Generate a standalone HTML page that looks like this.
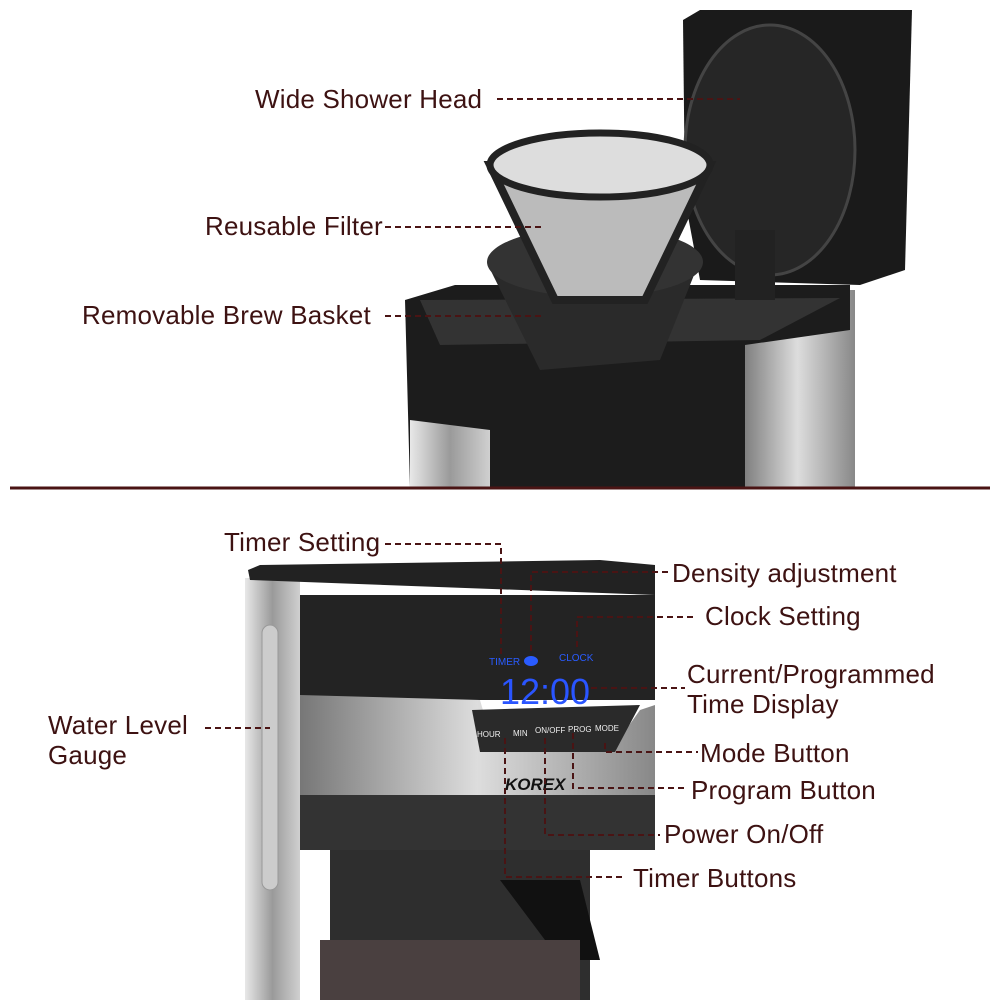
<!DOCTYPE html><html><head><style>
body{margin:0;width:1000px;height:1000px;background:#fff;position:relative;overflow:hidden;font-family:"Liberation Sans",sans-serif}
.t{position:absolute;color:#3d1212;font-size:26px;letter-spacing:0.2px;line-height:30px;white-space:nowrap}
svg{position:absolute;left:0;top:0}
</style></head><body>
<svg width="1000" height="1000">
<defs>
<linearGradient id="st" x1="0" x2="1"><stop offset="0" stop-color="#e8e8e8"/><stop offset=".5" stop-color="#9a9a9a"/><stop offset="1" stop-color="#d0d0d0"/></linearGradient>
<linearGradient id="st2" x1="0" x2="1"><stop offset="0" stop-color="#777"/><stop offset=".5" stop-color="#ddd"/><stop offset="1" stop-color="#888"/></linearGradient>
</defs>
<rect x="740" y="290" width="115" height="198" fill="url(#st2)"/>
<path d="M405 300 L455 285 L850 285 L850 330 L745 345 L745 488 L410 488 Z" fill="#1c1c1c"/>
<path d="M420 300 L840 298 L760 340 L440 345 Z" fill="#333"/>
<path d="M410 420 L490 430 L490 488 L410 488 Z" fill="url(#st)"/>
<path d="M683 20 L700 10 L912 10 L905 270 L860 285 L700 280 L685 200 Z" fill="#1a1a1a"/>
<ellipse cx="770" cy="150" rx="85" ry="125" fill="#262626" stroke="#444" stroke-width="3"/>
<rect x="735" y="230" width="40" height="70" fill="#222"/>
<path d="M488 265 L700 260 L660 360 L540 370 Z" fill="#2a2a2a"/>
<ellipse cx="595" cy="262" rx="108" ry="35" fill="#333"/>
<path d="M490 165 L710 165 L645 300 L555 300 Z" fill="#bbb" stroke="#222" stroke-width="8"/>
<ellipse cx="600" cy="165" rx="110" ry="32" fill="#ddd" stroke="#222" stroke-width="7"/>
<line x1="10" y1="488" x2="990" y2="488" stroke="#4a1414" stroke-width="3"/>
<rect x="245" y="578" width="55" height="422" fill="url(#st)"/>
<rect x="262" y="625" width="16" height="265" rx="8" fill="#ccc" stroke="#999"/>
<path d="M248 570 L250 580 L655 595 L655 565 L600 560 L260 565 Z" fill="#222"/>
<path d="M300 595 L655 595 L655 700 L300 700 Z" fill="#232323"/>
<path d="M300 695 L480 700 L495 752 L610 752 L640 710 L655 705 L655 800 L300 800 Z" fill="url(#st2)"/>
<path d="M472 710 L640 705 L615 752 L480 752 Z" fill="#2a2a2a"/>
<rect x="300" y="795" width="355" height="55" fill="#333"/>
<rect x="330" y="850" width="260" height="150" fill="#2e2e2e"/>
<path d="M500 880 L580 880 L600 960 L560 960 Z" fill="#111"/>
<rect x="320" y="940" width="260" height="60" fill="#4a4040"/>
<text x="489" y="665" fill="#2a5cff" font-size="10">TIMER</text>
<ellipse cx="531" cy="661" rx="7" ry="5" fill="#2a5cff"/>
<text x="559" y="661" fill="#2a5cff" font-size="10">CLOCK</text>
<text x="500" y="704" fill="#2a55ff" font-size="36" font-family="Liberation Sans" textLength="90">12:00</text>
<g fill="#eee" font-size="8"><text x="477" y="737">HOUR</text><text x="513" y="736">MIN</text><text x="535" y="733">ON/OFF</text><text x="568" y="732">PROG</text><text x="595" y="731">MODE</text></g>
<text x="505" y="790" fill="#111" font-size="17" font-weight="bold" font-style="italic">KOREX</text>
<g stroke="#4a1414" stroke-width="2" stroke-dasharray="6,4" fill="none">
<path d="M497 99 H740"/>
<path d="M385 227 H545"/>
<path d="M385 316 H545"/>
<path d="M385 544 H501 V655"/>
<path d="M668 572 H531 V652"/>
<path d="M693 617 H577 V650"/>
<path d="M591 688 H685"/>
<path d="M205 728 H270"/>
<path d="M605 743 V752 H698"/>
<path d="M573 733 V788 H688"/>
<path d="M545 738 V835 H660"/>
<path d="M505 738 V877 H625"/>
</g>
</svg>
<div class="t" style="left:255px;top:84px">Wide Shower Head</div>
<div class="t" style="left:205px;top:211px">Reusable Filter</div>
<div class="t" style="left:82px;top:300px">Removable Brew Basket</div>
<div class="t" style="left:224px;top:527px">Timer Setting</div>
<div class="t" style="left:672px;top:558px">Density adjustment</div>
<div class="t" style="left:705px;top:601px">Clock Setting</div>
<div class="t" style="left:687px;top:659px">Current/Programmed<br>Time Display</div>
<div class="t" style="left:48px;top:710px">Water Level<br>Gauge</div>
<div class="t" style="left:700px;top:738px">Mode Button</div>
<div class="t" style="left:691px;top:775px">Program Button</div>
<div class="t" style="left:664px;top:819px">Power On/Off</div>
<div class="t" style="left:633px;top:863px">Timer Buttons</div>
</body></html>
